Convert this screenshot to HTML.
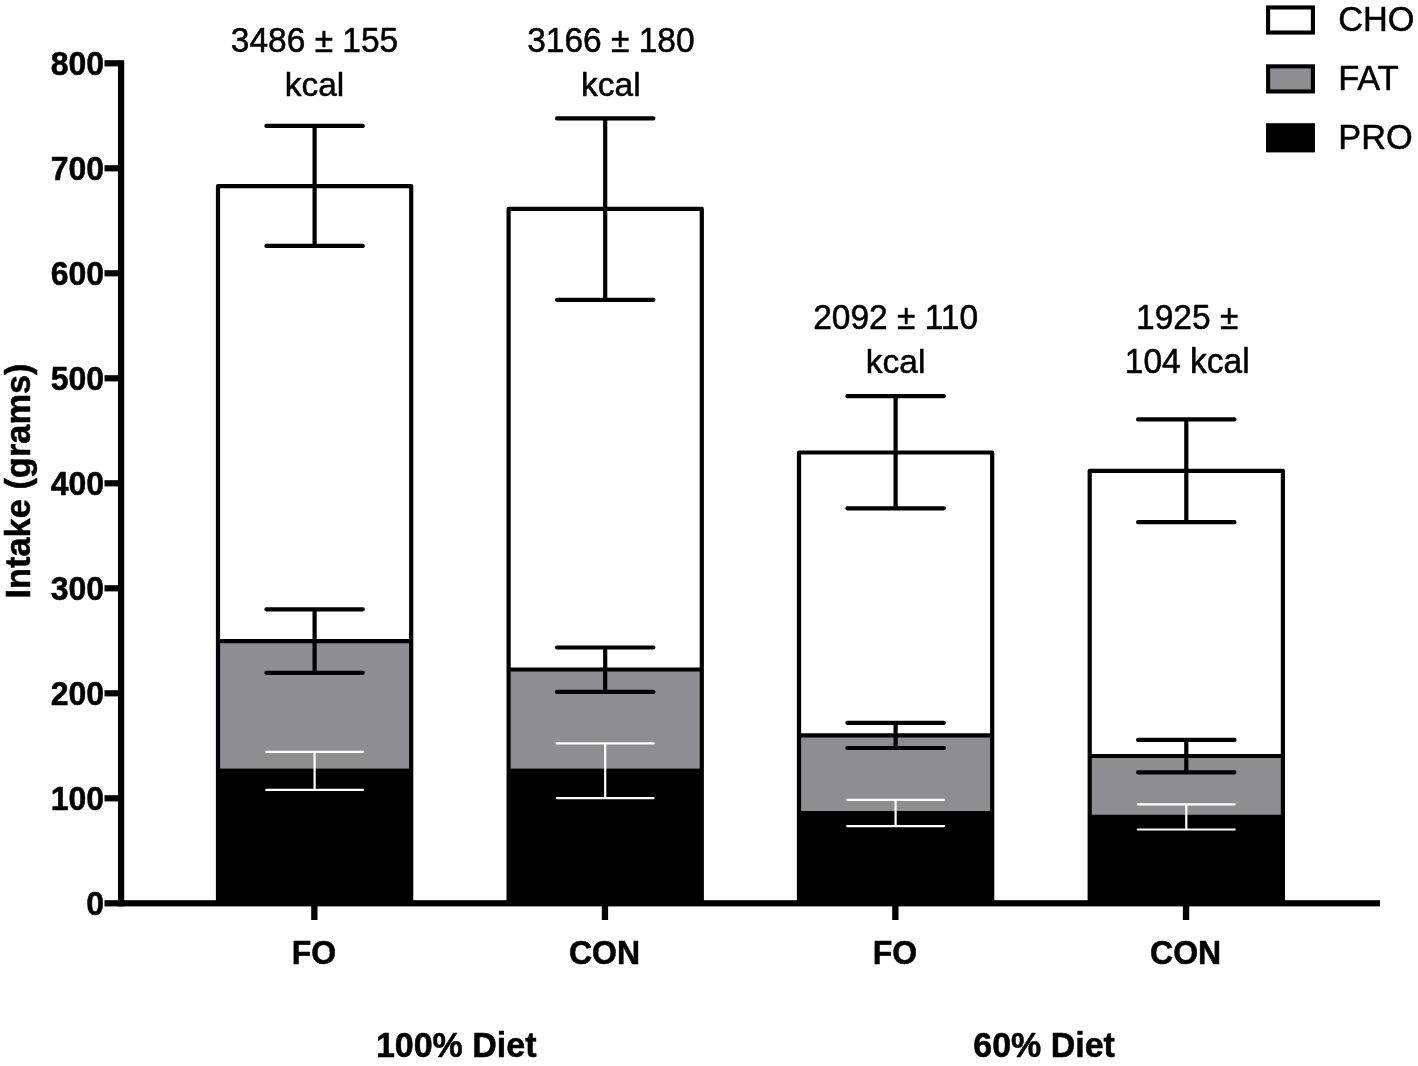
<!DOCTYPE html>
<html lang="en"><head><meta charset="utf-8"><title>Intake chart</title>
<style>html,body{margin:0;padding:0;background:#fff;overflow:hidden}svg{display:block}text{font-family:"Liberation Sans",Arial,Helvetica,sans-serif;fill:#000;stroke:#000;stroke-width:.5px;stroke-linejoin:round}.b{font-weight:700}</style></head><body>
<svg width="1418" height="1066" viewBox="0 0 1418 1066">
<rect width="1418" height="1066" fill="#fff"/>
<g>
<rect x="218.00" y="641.2" width="193.20" height="127.20" fill="#8e8d92"/>
<rect x="218.00" y="768.4" width="193.20" height="134.90" fill="#000"/>
<path d="M218.00 641.2H411.20M218.00 903.3V186.2H411.20V903.3" fill="none" stroke="#000" stroke-width="4.2" stroke-linejoin="round"/>
<path d="M266.4 125.9H362.8M266.4 245.9H362.8M314.6 125.9V245.9" fill="none" stroke="#000" stroke-width="4.2" stroke-linecap="round"/>
<path d="M266.4 609.3H362.8M266.4 672.8H362.8M314.6 609.3V672.8" fill="none" stroke="#000" stroke-width="4.2" stroke-linecap="round"/>
<path d="M266.2 751.8H363.0M266.2 789.8H363.0M314.6 751.8V789.8" fill="none" stroke="#fff" stroke-width="2.2" stroke-linecap="round"/>
</g>
<g>
<rect x="508.60" y="669.5" width="193.20" height="98.90" fill="#8e8d92"/>
<rect x="508.60" y="768.4" width="193.20" height="134.90" fill="#000"/>
<path d="M508.60 669.5H701.80M508.60 903.3V208.9H701.80V903.3" fill="none" stroke="#000" stroke-width="4.2" stroke-linejoin="round"/>
<path d="M557.0 118.4H653.4M557.0 299.8H653.4M605.2 118.4V299.8" fill="none" stroke="#000" stroke-width="4.2" stroke-linecap="round"/>
<path d="M557.0 647.5H653.4M557.0 691.9H653.4M605.2 647.5V691.9" fill="none" stroke="#000" stroke-width="4.2" stroke-linecap="round"/>
<path d="M556.8 743.4H653.6M556.8 798.1H653.6M605.2 743.4V798.1" fill="none" stroke="#fff" stroke-width="2.2" stroke-linecap="round"/>
</g>
<g>
<rect x="799.00" y="735.4" width="193.20" height="75.60" fill="#8e8d92"/>
<rect x="799.00" y="811.0" width="193.20" height="92.30" fill="#000"/>
<path d="M799.00 735.4H992.20M799.00 903.3V452.5H992.20V903.3" fill="none" stroke="#000" stroke-width="4.2" stroke-linejoin="round"/>
<path d="M847.4 396.2H943.8M847.4 508.3H943.8M895.6 396.2V508.3" fill="none" stroke="#000" stroke-width="4.2" stroke-linecap="round"/>
<path d="M847.4 722.8H943.8M847.4 748.0H943.8M895.6 722.8V748.0" fill="none" stroke="#000" stroke-width="4.2" stroke-linecap="round"/>
<path d="M847.2 799.8H944.0M847.2 826.1H944.0M895.6 799.8V826.1" fill="none" stroke="#fff" stroke-width="2.2" stroke-linecap="round"/>
</g>
<g>
<rect x="1089.70" y="756.0" width="193.20" height="58.60" fill="#8e8d92"/>
<rect x="1089.70" y="814.6" width="193.20" height="88.70" fill="#000"/>
<path d="M1089.70 756.0H1282.90M1089.70 903.3V470.8H1282.90V903.3" fill="none" stroke="#000" stroke-width="4.2" stroke-linejoin="round"/>
<path d="M1138.1 419.4H1234.5M1138.1 522.2H1234.5M1186.3 419.4V522.2" fill="none" stroke="#000" stroke-width="4.2" stroke-linecap="round"/>
<path d="M1138.1 739.9H1234.5M1138.1 772.3H1234.5M1186.3 739.9V772.3" fill="none" stroke="#000" stroke-width="4.2" stroke-linecap="round"/>
<path d="M1137.9 804.3H1234.7M1137.9 829.5H1234.7M1186.3 804.3V829.5" fill="none" stroke="#fff" stroke-width="2.2" stroke-linecap="round"/>
</g>
<rect x="118" y="60.2" width="6.2" height="846.2" fill="#000"/>
<rect x="104.5" y="900.2" width="1275.5" height="6.2" fill="#000"/>
<rect x="104.5" y="795.2" width="15" height="6.2" fill="#000"/>
<rect x="104.5" y="690.2" width="15" height="6.2" fill="#000"/>
<rect x="104.5" y="585.2" width="15" height="6.2" fill="#000"/>
<rect x="104.5" y="480.2" width="15" height="6.2" fill="#000"/>
<rect x="104.5" y="375.2" width="15" height="6.2" fill="#000"/>
<rect x="104.5" y="270.2" width="15" height="6.2" fill="#000"/>
<rect x="104.5" y="165.2" width="15" height="6.2" fill="#000"/>
<rect x="104.5" y="60.2" width="15" height="6.2" fill="#000"/>
<text class="b" transform="translate(104 914.6) scale(1 1.04)" font-size="32" text-anchor="end">0</text>
<text class="b" transform="translate(104 809.6) scale(1 1.04)" font-size="32" text-anchor="end">100</text>
<text class="b" transform="translate(104 704.6) scale(1 1.04)" font-size="32" text-anchor="end">200</text>
<text class="b" transform="translate(104 599.6) scale(1 1.04)" font-size="32" text-anchor="end">300</text>
<text class="b" transform="translate(104 494.6) scale(1 1.04)" font-size="32" text-anchor="end">400</text>
<text class="b" transform="translate(104 389.6) scale(1 1.04)" font-size="32" text-anchor="end">500</text>
<text class="b" transform="translate(104 284.6) scale(1 1.04)" font-size="32" text-anchor="end">600</text>
<text class="b" transform="translate(104 179.6) scale(1 1.04)" font-size="32" text-anchor="end">700</text>
<text class="b" transform="translate(104 74.6) scale(1 1.04)" font-size="32" text-anchor="end">800</text>
<rect x="311.2" y="905" width="6.3" height="15" fill="#000"/>
<text class="b" transform="translate(313.9 963.7) scale(1 1.04)" font-size="32" text-anchor="middle">FO</text>
<text transform="translate(314.5 52.4) scale(1 1.04)" font-size="33.5" text-anchor="middle">3486 ± 155</text>
<text transform="translate(314.5 96.1) scale(1 1.0)" font-size="33.5" text-anchor="middle">kcal</text>
<rect x="601.8" y="905" width="6.3" height="15" fill="#000"/>
<text class="b" transform="translate(604.5 963.7) scale(1 1.04)" font-size="32" text-anchor="middle">CON</text>
<text transform="translate(610.9 52.4) scale(1 1.04)" font-size="33.5" text-anchor="middle">3166 ± 180</text>
<text transform="translate(610.9 96.1) scale(1 1.0)" font-size="33.5" text-anchor="middle">kcal</text>
<rect x="892.2" y="905" width="6.3" height="15" fill="#000"/>
<text class="b" transform="translate(894.9 963.7) scale(1 1.04)" font-size="32" text-anchor="middle">FO</text>
<text transform="translate(895.6 329.3) scale(1 1.04)" font-size="33.5" text-anchor="middle">2092 ± 110</text>
<text transform="translate(895.6 373.0) scale(1 1.0)" font-size="33.5" text-anchor="middle">kcal</text>
<rect x="1182.9" y="905" width="6.3" height="15" fill="#000"/>
<text class="b" transform="translate(1185.6 963.7) scale(1 1.04)" font-size="32" text-anchor="middle">CON</text>
<text transform="translate(1187.2 329.3) scale(1 1.04)" font-size="33.5" text-anchor="middle">1925 ±</text>
<text transform="translate(1187.2 373.0) scale(1 1.03)" font-size="33.5" text-anchor="middle">104 kcal</text>
<text class="b" transform="translate(456.2 1056.5) scale(1 1.04)" font-size="34" text-anchor="middle">100% Diet</text>
<text class="b" transform="translate(1044.1 1056.5) scale(1 1.04)" font-size="34" text-anchor="middle">60% Diet</text>
<text class="b" transform="translate(30 481) rotate(-90)" font-size="34.4" text-anchor="middle">Intake (grams)</text>
<rect x="1268.1" y="7.45" width="44.8" height="25.1" fill="#fff" stroke="#000" stroke-width="4.1"/>
<text transform="translate(1338.3 31.3) scale(1 1.04)" font-size="34.3" text-anchor="start">CHO</text>
<rect x="1268.1" y="66.35" width="44.8" height="25.1" fill="#8e8d92" stroke="#000" stroke-width="4.1"/>
<text transform="translate(1338.3 90.05) scale(1 1.04)" font-size="34.3" text-anchor="start">FAT</text>
<rect x="1268.1" y="125.25" width="44.8" height="25.1" fill="#000" stroke="#000" stroke-width="4.1"/>
<text transform="translate(1338.3 148.8) scale(1 1.04)" font-size="34.3" text-anchor="start">PRO</text>
</svg></body></html>
